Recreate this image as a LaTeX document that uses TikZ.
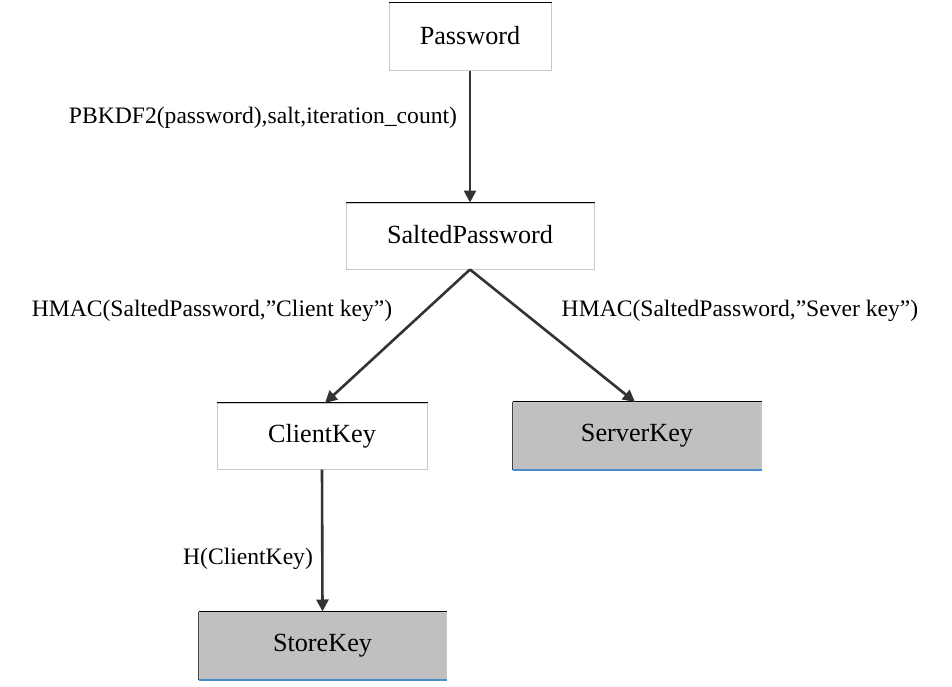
\documentclass[tikz,border=0pt]{standalone}
\usepackage{fontspec}
\setmainfont{Liberation Serif}
\usetikzlibrary{arrows.meta}
\definecolor{boxgray}{HTML}{C0C0C0}
\definecolor{edgegray}{HTML}{C8C8C8}
\definecolor{linkgray}{HTML}{333333}
\definecolor{blueline}{HTML}{4A8CD0}
\newcommand{\boxtext}[1]{\raisebox{3pt}{#1}}
\tikzset{
  x=1pt, y=-1pt,
  keybox/.style={draw=edgegray, line width=1pt, fill=white, inner sep=0pt,
    font=\fontsize{26.2}{31}\selectfont, text=black},
  graybox/.style={keybox, fill=boxgray},
  link/.style={draw=linkgray, line width=2.6pt, -{Triangle[length=12pt,width=12pt]}},
  lbl/.style={font=\fontsize{23.6}{28}\selectfont, text=black, inner sep=0pt},
}
\begin{document}
\begin{tikzpicture}
\useasboundingbox (0,0) rectangle (952,687);
\node[keybox, minimum width=162pt, minimum height=68pt] (pw) at (470,37) {\boxtext{Password}};
\node[keybox, minimum width=248pt, minimum height=66pt] (sp) at (470,236) {\boxtext{SaltedPassword}};
\node[keybox, minimum width=210pt, minimum height=66pt] (ck) at (322,436) {\boxtext{ClientKey}};
\node[graybox, minimum width=248pt, minimum height=67pt] (sk) at (637,435.5) {\boxtext{ServerKey}};
\node[graybox, minimum width=247pt, minimum height=67pt] (st) at (322.5,645.5) {\boxtext{StoreKey}};
% top edges
\foreach \n in {pw,sp,ck,sk,st}{
  \draw[black, line width=1.6pt] (\n.north west) -- (\n.north east);
}
\draw[black!75, line width=1.2pt] (sk.north west) -- (sk.south west);
\draw[black!75, line width=1.2pt] (st.north west) -- (st.south west);
\draw[blueline, line width=2pt] (sk.south west) -- (sk.south east);
\draw[blueline, line width=2pt] (st.south west) -- (st.south east);
% connectors
\coordinate (ckin) at (325,403);
\coordinate (skin) at (635,402);
\draw[link] (pw.south) -- (sp.north);
\draw[link] (sp.south) -- (ckin);
\draw[link] (sp.south) -- (skin);
\draw[link] (ck.south) -- (st.north);
% labels
\node[lbl] (l1) at (263,118) {PBKDF2(password),salt,iteration\_count)};
\node[lbl] (l2) at (212,311) {HMAC(SaltedPassword,”Client key”)};
\node[lbl] (l3) at (740,311) {HMAC(SaltedPassword,”Sever key”)};
\node[lbl] (l4) at (248,559) {H(ClientKey)};
\end{tikzpicture}
\end{document}
